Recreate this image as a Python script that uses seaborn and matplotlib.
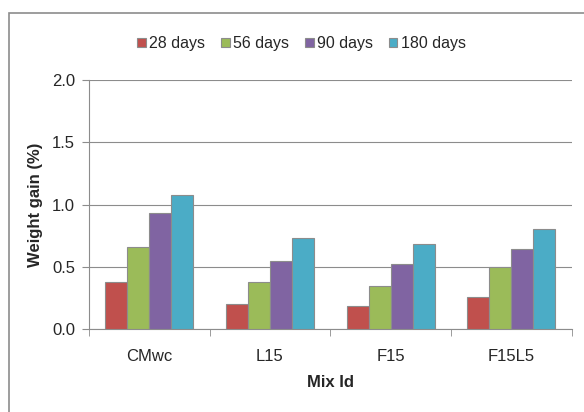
import pandas as pd
import matplotlib.pyplot as plt
import seaborn as sb
from matplotlib.patches import Rectangle

mixes = ['CMwc', 'L15', 'F15', 'F15L5']
ages = ['28 days', '56 days', '90 days', '180 days']
gain_28 = [0.38, 0.20, 0.19, 0.26]
gain_56 = [0.66, 0.38, 0.35, 0.50]
gain_90 = [0.93, 0.55, 0.52, 0.64]
gain_180 = [1.08, 0.73, 0.68, 0.80]
colors = ['#C0504D', '#9BBB59', '#8064A2', '#4BACC6']

rows = []
for age, vals in zip(ages, [gain_28, gain_56, gain_90, gain_180]):
    for m, v in zip(mixes, vals):
        rows.append({'Mix Id': m, 'Age': age, 'Gain': v})
df = pd.DataFrame(rows)

sb.set_style('white')
plt.rcParams['font.family'] = ['Liberation Sans', 'DejaVu Sans']

fig = plt.figure(figsize=(5.84, 4.12), dpi=100)
ax = fig.add_axes([0.152, 0.201, 0.827, 0.605])

sb.barplot(data=df, x='Mix Id', y='Gain', hue='Age', order=mixes, hue_order=ages,
           palette=colors, saturation=1, width=0.73, edgecolor='#8c8c8c', linewidth=0.8,
           errorbar=None, ax=ax, zorder=3)

ax.set_ylim(0, 2.0)
ax.set_xlim(-0.5, 3.5)
ax.set_yticks([0, 0.5, 1.0, 1.5, 2.0])
ax.set_yticklabels(['0.0', '0.5', '1.0', '1.5', '2.0'], fontsize=12)
ax.set_xticks([0, 1, 2, 3])
ax.set_xticklabels(mixes, fontsize=12)
ax.tick_params(axis='x', length=0, pad=14)
ax.tick_params(axis='y', length=5, color='#8c8c8c', direction='out', pad=5, left=True)
ax.set_xticks([-0.5, 0.5, 1.5, 2.5, 3.5], minor=True)
ax.tick_params(axis='x', which='minor', length=5, color='#8c8c8c', direction='out', bottom=True)
ax.grid(axis='y', color='#8c8c8c', linewidth=0.8, zorder=0)
ax.set_axisbelow(True)
for s in ['top', 'right']:
    ax.spines[s].set_visible(False)
for s in ['left', 'bottom']:
    ax.spines[s].set_color('#8c8c8c')
    ax.spines[s].set_linewidth(0.8)

ax.set_xlabel('Mix Id', fontsize=12, fontweight='bold', labelpad=8)
ax.set_ylabel('Weight gain (%)', fontsize=12, fontweight='bold', labelpad=6)

ax.legend(loc='lower center', bbox_to_anchor=(0.44, 1.09), ncol=4, frameon=False,
          fontsize=11.5, handlelength=0.55, handleheight=0.55, handletextpad=0.2,
          columnspacing=1.0, borderaxespad=0)

fig.patches.append(Rectangle((9 / 584, -0.1), 1.2, 1.1 - 13 / 412,
                             transform=fig.transFigure, fill=False,
                             edgecolor='#8c8c8c', linewidth=1.2, clip_on=False))

fig.savefig('out.png', dpi=100)
